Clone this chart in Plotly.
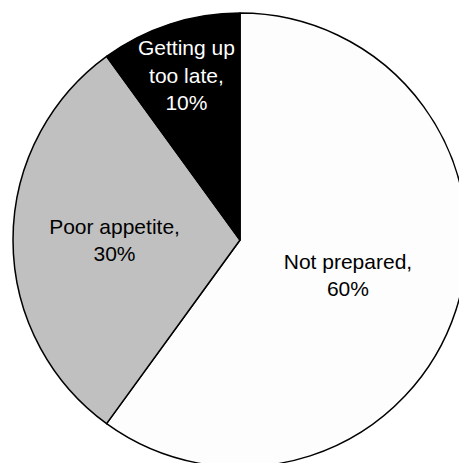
import plotly.graph_objects as go

labels = ["Not prepared", "Poor appetite", "Getting up too late"]
label_lines = ["Not prepared,", "Poor appetite,", "Getting up<br>too late,"]
values = [60, 30, 10]
colors = ["#fdfdfd", "#c0c0c0", "#000000"]
text_colors = ["#000000", "#000000", "#ffffff"]

texts = [f"{l}<br>{v}%" for l, v in zip(label_lines, values)]

W = 480
fig = go.Figure(go.Pie(
    labels=labels,
    values=values,
    text=texts,
    textinfo="text",
    textposition="inside",
    insidetextorientation="horizontal",
    sort=False,
    direction="clockwise",
    rotation=0,
    marker=dict(colors=colors, line=dict(color="#000000", width=1.5)),
    insidetextfont=dict(family="Liberation Sans, Arial, sans-serif", size=21, color=text_colors),
    domain=dict(x=[13 / W, 467 / W], y=[13 / W, 467 / W]),
    showlegend=False,
    hoverinfo="none",
))
fig.update_layout(
    width=W, height=W,
    margin=dict(l=0, r=0, t=0, b=0),
    paper_bgcolor="white",
    plot_bgcolor="white",
    uniformtext=dict(minsize=21, mode="show"),
)
fig.write_html("out.html")
